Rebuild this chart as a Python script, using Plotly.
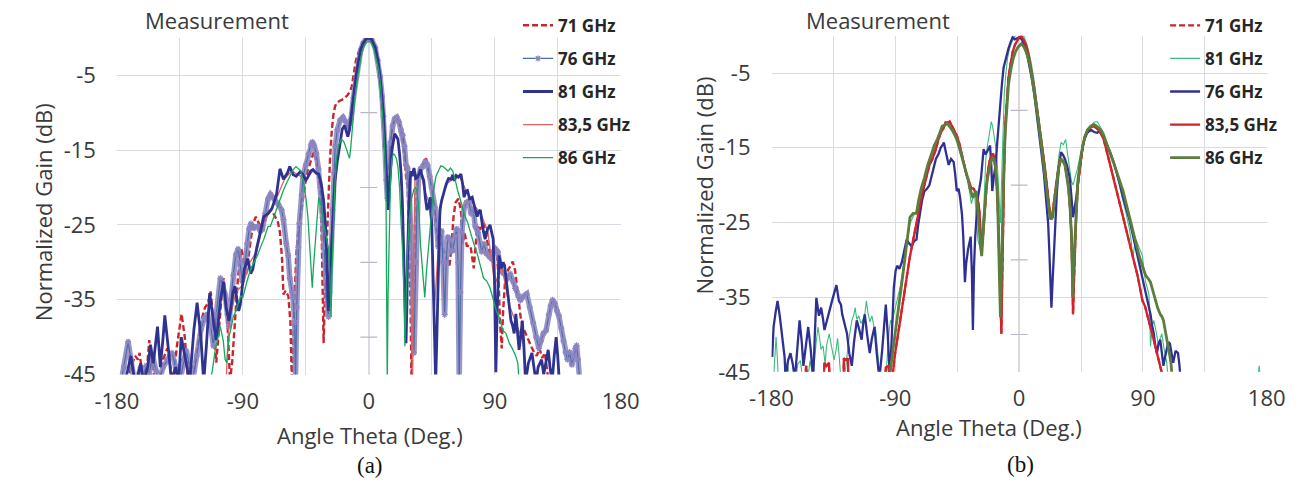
import plotly.graph_objects as go

# ================= DATA : panel (a) =================
# (angle in deg, normalized gain in dB); values below -45 sit under the axis floor
A71 = [(-172,-46),(-170,-44),(-167,-42.5),(-165,-43),(-163.8,-42.1),(-162,-45),(-160,-46),(-158,-43),
       (-156.9,-40.4),(-155,-43),(-153,-46),(-150,-46),(-147,-43),(-144,-41.5),(-142,-44),(-140,-46),
       (-137,-41),(-135,-38.5),(-133.8,-36.9),(-131.5,-40),(-129.2,-46),(-126,-46),(-123,-42),(-120,-38),
       (-117,-36),(-115,-35.5),(-113,-33.9),(-111.5,-37),(-109,-43.4),(-107,-38),(-105,-34),(-103.8,-32.1),
       (-102,-35),(-100.5,-40),(-99.2,-46),(-97.5,-43),(-95.7,-37.8),(-93.5,-32),(-91.1,-28.2),(-89.5,-29.5),
       (-87.7,-31.7),(-86,-29),(-84,-26.5),(-82,-24.5),(-80.7,-23.9),(-78.5,-24.8),(-76.1,-25.6),(-74,-24.3),
       (-72,-23.3),(-69.5,-23),(-67,-23.8),(-65,-24.6),(-63.5,-26),(-62,-29.5),(-61,-34.3),(-59.5,-33.8),
       (-57.5,-34.5),(-56,-38),(-55,-46),(-54.2,-41.3),(-53.1,-33.4),(-52,-29.5),(-50.8,-26.5),(-49,-24),
       (-47.3,-22.1),(-45.5,-19.5),(-43.8,-17.8),(-41.5,-16.5),(-39.2,-15.2),(-37.5,-16.5),(-36,-18.5),
       (-34.6,-20.4),(-33.5,-28),(-32.3,-40.8),(-31.2,-33),(-30,-26.9),(-28.8,-21),(-27.7,-16.1),(-26.5,-12.5),
       (-25.4,-10.4),(-24.2,-9.2),(-23.1,-8.7),(-21.5,-8.5),(-19.6,-8.3),(-17.5,-8.1),(-15,-7.6),(-13.5,-7.2),
       (-12.2,-6.5),(-10.5,-4.5),(-9.2,-3.0),(-7.5,-2.0),(-5.75,-1.2),(-4,-0.6),(-2,-0.15),(0,0),(2,-0.2),
       (4.6,-1.3),(6.5,-3),(8.1,-5.2),(9.5,-7.8),(10.5,-10.3),(11.5,-14),(12.5,-18),(13.3,-21),(14.5,-17),
       (16,-13),(18,-11.2),(20,-10.8),(22,-11.5),(24,-13.5),(25.5,-16),(26.6,-18.5),(27.8,-20),(28.8,-26),
       (29.8,-35),(30.5,-46),(31.5,-38),(32.5,-28),(33.5,-22),(35,-19),(37,-17.8),(39,-16.6),(40.9,-16.1),
       (42.5,-17.5),(44,-19),(45,-20),(46.5,-22),(47.5,-24.5),(49.6,-27.8),(51.5,-27.5),(53,-28.2),
       (54.3,-28.7),(56,-29.8),(57.7,-30.4),(59,-28),(60.5,-24),(62,-22),(64,-21.5),(65.8,-23),(67,-27.5),
       (68.5,-26),(70,-27.8),(72.7,-27.8),(73.8,-29.5),(75,-30.8),(76.2,-28),(77.4,-25.2),(79.5,-25.5),
       (82,-24.8),(84,-26.5),(86,-28.5),(88,-29.5),(89.5,-29),(91.2,-28.2),(92.5,-31.3),(93.8,-38),
       (95,-41.5),(96,-36.5),(97.2,-33),(98.1,-32.1),(99.5,-31),(101.6,-30.4),(102.8,-29.9),(104.5,-31),
       (106,-33.5),(107.5,-36),(108.5,-37.3),(110,-38.6),(112,-39.5),(114,-40.5),(116,-41.2),(118,-42),
       (120,-42.5),(122,-41.5),(124,-42.8),(125.8,-42.1),(127,-44),(128.5,-46)]

A76 = [(-177,-46),(-175,-44),(-172,-40.6),(-170,-43),(-168,-45.5),(-166,-46),(-163,-44),(-161,-45),
       (-159,-43.8),(-157,-45),(-154.6,-42.5),(-152,-44.5),(-150,-46),(-147,-44),(-144,-43),(-140.7,-42.1),
       (-138,-44),(-135,-46),(-132,-43),(-130.4,-41.8),(-128,-44),(-126,-46),(-123,-42.5),(-120,-39),
       (-117.5,-37.5),(-115.4,-36.9),(-113,-38.5),(-111,-41.2),(-109,-37),(-106.1,-32.1),(-104.5,-33),
       (-102.7,-34.3),(-101,-37),(-100,-38.6),(-98.5,-35),(-96.9,-31.7),(-95,-29),(-93.4,-28.2),(-92,-30),
       (-90.5,-32.5),(-89,-31),(-87,-27.5),(-85.5,-25.5),(-84.2,-24.8),(-82,-25.4),(-79.6,-25.2),(-77.5,-25.8),
       (-76.1,-25.6),(-74,-23.5),(-72,-21.5),(-70.3,-20.9),(-68.5,-21.3),(-66.9,-21.7),(-64.5,-22.3),
       (-62.3,-23),(-61,-24.3),(-59,-27.5),(-57.6,-29.1),(-56.5,-32.1),(-55,-34),(-54.2,-34.7),(-53,-38),
       (-52.4,-46),(-51.5,-36),(-50.5,-28),(-49.6,-24.8),(-48,-21),(-47,-18.5),(-45,-17),(-43,-15.5),
       (-41.5,-14.3),(-40.4,-13.9),(-39,-14.4),(-37.5,-15.5),(-36,-17.5),(-34.5,-20),(-33,-24),(-32,-28),
       (-31,-32),(-30,-35.5),(-28.8,-37.3),(-28,-34),(-27,-28),(-26,-23),(-25,-18),(-24,-14.5),(-22.5,-12.3),
       (-20.5,-11),(-18.45,-10.6),(-17,-11.1),(-15,-11.7),(-13.8,-11.4),(-12.7,-10.9),(-11,-8),(-9.2,-5.3),
       (-7.5,-3.3),(-5.75,-1.6),(-4,-0.7),(-2,-0.15),(0,0),(2,-0.2),(4.6,-1.3),(6.5,-3),(8.1,-5.2),(9.5,-7.8),
       (10.5,-10.5),(11.5,-14.5),(12.5,-19),(13.3,-21.5),(14.2,-18),(15.5,-14),(17,-11.8),(18.5,-10.8),
       (20,-10.6),(21.5,-11.2),(23,-12.3),(24.3,-13.0),(25.5,-14.5),(26.6,-17),(27.7,-17.4),(29,-21),
       (30,-25.2),(31.2,-33),(32.3,-42.1),(33.5,-30),(34.5,-22),(35.5,-18.5),(37,-17.5),(38.5,-17.2),
       (40.4,-16.5),(42,-17),(43.5,-18.5),(45,-20),(47.3,-22.7),(48.5,-25),(49.6,-27.9),(51,-26),(52,-25.8),
       (53,-30),(54.2,-37),(55.3,-30),(56.5,-26.6),(58,-27),(59,-28.5),(60,-28.4),(61.5,-26.5),(62.8,-25.5),
       (63.8,-30),(64.6,-46),(65.5,-34),(66.5,-26),(68.1,-22.7),(69.8,-22),(71.5,-21.8),(73,-23.5),
       (74.5,-22.8),(76.1,-25.2),(78,-26),(80.7,-28.6),(82.5,-27.5),(84,-28.8),(86,-29.2),(87.6,-29.5),
       (89,-28.6),(90.5,-28.2),(92.2,-28.6),(93.5,-30),(94.5,-31.2),(96.5,-31.5),(99.1,-32.1),(101,-31.5),
       (103,-32.5),(104.5,-33.5),(106.5,-34.5),(108.3,-35.1),(110,-34.6),(112.9,-34.2),(115,-36),
       (117.5,-38.1),(119.5,-40),(121.5,-41.5),(123,-40.5),(124.8,-39.5),(126.7,-39.1),(128.5,-37),
       (130,-35.8),(131.3,-35.0),(133,-35.5),(134.5,-36.5),(135.9,-37.2),(137.5,-38.8),(139,-40.5),
       (140.5,-42),(142,-43),(143.5,-42),(145.1,-43.7),(146.5,-42.5),(147.5,-41.5),(148.5,-41.1),
       (149.5,-43),(150.8,-46)]

A81 = [(-176,-46),(-173,-45),(-170,-42.5),(-168,-45),(-166,-46),(-163,-43.5),(-161,-46),(-158,-44),
       (-156,-41),(-154,-43.5),(-151,-38.6),(-149,-44),(-147,-40),(-145.8,-37.1),(-143,-42),(-141,-46),
       (-138,-44),(-136,-46),(-134,-40),(-131,-43),(-128,-46),(-125,-39),(-122.7,-35.4),(-120,-40),
       (-118,-46),(-116,-41),(-113.7,-34.1),(-111,-38),(-108.9,-40.4),(-106,-35),(-103.8,-32.6),(-102,-36),
       (-99.9,-37.8),(-97,-34),(-95.7,-33.2),(-93,-36.5),(-91.8,-35.6),(-89,-31),(-86.5,-29.5),(-84.5,-31.5),
       (-83,-31.0),(-80,-28.0),(-77,-25.5),(-75,-23.9),(-72,-23.5),(-69.2,-22.8),(-66,-21.0),(-63.5,-17.5),
       (-61,-18.9),(-58,-18),(-56.5,-17.2),(-54,-18.3),(-51.9,-18.5),(-49,-17.9),(-47.3,-18.2),(-45,-19),
       (-43.8,-18.7),(-41.5,-17.8),(-39.9,-17.6),(-37.5,-18.1),(-35.8,-18.2),(-34,-19.5),(-32.3,-21.7),
       (-31,-25),(-30,-29.1),(-29,-36.5),(-28,-33),(-26.5,-27),(-25,-22),(-24.2,-19.1),(-22.5,-16.5),
       (-20.8,-14.1),(-19,-12.2),(-17.3,-11.7),(-16,-12.4),(-15,-13.2),(-13.8,-12.3),(-12.7,-10.4),
       (-11,-7.8),(-9.2,-5.2),(-7.5,-3.2),(-5.75,-1.5),(-4,-0.7),(-2,-0.15),(0,0),(2,-0.2),(4.6,-1.3),
       (6.5,-3),(8.1,-5.2),(9.5,-7.8),(10.4,-10),(11.5,-14),(12.7,-19.5),(13.9,-23),(15,-19.5),(16.5,-15),
       (18.5,-12.8),(20.8,-13.5),(22,-15.5),(23.1,-18.2),(24,-22),(24.7,-26.9),(25.7,-33),(26.6,-40.8),
       (27.2,-36),(27.7,-29.1),(28.8,-22),(30,-17.8),(31,-18.5),(32.3,-17.4),(33.5,-18.8),(34.6,-18.7),
       (35.8,-18.2),(37,-17.6),(38,-18.4),(39.3,-19.1),(40.5,-21.5),(41.6,-23),(42.7,-22.5),(43.9,-21.3),
       (45,-25),(46.2,-33.4),(47,-38),(47.8,-46),(48.5,-41),(49.2,-35.6),(50,-28),(50.8,-23),(52,-21.8),
       (53.1,-20.8),(54.3,-20.2),(55.4,-19.5),(57,-18.8),(58.9,-18.9),(60,-18.3),(61.2,-19.1),(62.5,-18.4),
       (64,-18.6),(65.8,-18.2),(67,-19.5),(68.1,-21.3),(69.3,-20.5),(70.5,-20.4),(72,-21.5),(73.9,-21.3),
       (75.5,-22.5),(77.4,-23.9),(78.5,-23.2),(79.7,-23),(81.5,-25.5),(83.1,-26.9),(84.8,-25.6),(86.6,-25),
       (87.8,-26),(88.9,-26.9),(89.8,-32),(90.8,-44.7),(91.8,-36),(93.1,-29.1),(94.7,-30.8),(96,-30),
       (97,-30.4),(98.2,-32.5),(99.3,-34.3),(100.5,-36),(101.6,-37.8),(102.8,-38.5),(103.9,-39.5),
       (105.1,-36.9),(106.2,-39),(107.4,-41.7),(108.5,-40),(109.7,-37.8),(110.8,-41),(112,-46),(114,-43.5),
       (116.6,-42.1),(118,-44),(119.5,-46),(121,-44),(123.5,-43),(125,-45),(126.5,-43.5),(128.2,-41.7),
       (129.5,-44),(131,-46),(132.5,-42.5),(133.9,-40),(135,-42.5),(136.2,-46)]

A835 = [(-102,-46),(-100,-38),(-95,-34),(-90,-33),(-85,-30),(-80,-28.5),(-75,-24.5),(-70,-23),(-65,-21),
        (-60,-18.8),(-55,-17.8),(-50,-18.4),(-45,-18.9),(-40,-17.8),(-35,-18.5),(-32,-22),(-30,-30),
        (-29,-36),(-27,-28),(-25,-21),(-22,-15.5),(-19,-12.3),(-17,-11.9),(-15,-13),(-13,-11),(-10,-6.8),
        (-7,-2.8),(-4,-0.8),(0,-0.1),(4,-1.1),(7,-3.8),(9.5,-7.9),(11.5,-14.2),(13.5,-22),(15,-19.5),
        (17,-14),(19,-13),(21,-13.8),(23,-18),(25,-28),(26.5,-38),(28,-28),(29.5,-19),(30.5,-24),
        (31.3,-46),(32,-30),(33,-18.5),(35,-18.5),(37,-17.8),(40,-20.5),(43,-22),(45,-26),(47,-36),
        (49,-30),(52,-21.5),(56,-19.5),(60,-18.8),(65,-18.6),(70,-20.6),(75,-22.3),(80,-23.5),(85,-25.8),
        (90,-33),(95,-30.5),(100,-35.5),(105,-38),(110,-40.5),(113,-46)]

A86 = [(-114,-46),(-112,-44.7),(-110,-42),(-108,-40),(-106.1,-38.6),(-104,-40.5),(-102.7,-43),
       (-101.5,-43.4),(-100,-40),(-98.1,-38.5),(-96.9,-37.3),(-95,-36.5),(-93.5,-35.5),(-91.5,-34.5),
       (-90,-34.7),(-88.9,-33.8),(-87,-32.5),(-84.2,-30.8),(-82,-30),(-79.6,-29.1),(-77,-27.8),(-75,-26.9),
       (-72,-25.2),(-70.4,-25.2),(-68,-24),(-65.8,-22.8),(-63.5,-21.5),(-61.1,-20.4),(-59,-19.5),
       (-56.5,-18.6),(-54,-17.6),(-52,-17.2),(-50.5,-17.5),(-48.5,-17.8),(-46.5,-19.5),(-45,-21.3),
       (-43.5,-24),(-42.7,-26.5),(-41.5,-30),(-40.4,-33.4),(-39.5,-30.5),(-38.1,-27.4),(-37,-24),
       (-35.8,-21.3),(-34,-22.5),(-32.3,-24.8),(-30.5,-26.5),(-28.8,-28.2),(-27.8,-32),(-27,-37.3),
       (-26.3,-31),(-25.4,-24.8),(-24.2,-19.5),(-23.1,-16.1),(-21.5,-14.3),(-19.6,-13.5),(-17.8,-13.9),
       (-16.1,-14.8),(-15,-15.6),(-13.8,-16.1),(-12.8,-14.5),(-11.5,-11.7),(-10,-8),(-8,-5.2),(-6.5,-3.3),
       (-5,-2.0),(-3,-1.0),(-1.5,-0.6),(0,-0.5),(1.5,-0.6),(3.5,-1.4),(5.5,-2.8),(7,-4.2),(8.1,-5.7),
       (9.3,-8.5),(10.4,-11.7),(11.4,-15.5),(12.3,-20.4),(12.7,-33.4),(13.2,-46),(13.8,-34),(14.5,-25),
       (15.5,-19),(16.5,-16.2),(17.5,-15.5),(18.5,-15.6),(19.8,-16.2),(20.8,-17.2),(22,-20),(23.1,-24.8),
       (24.3,-29),(25.2,-35),(25.8,-41.2),(26.5,-36),(27.5,-29),(28.9,-24.3),(30.5,-21.5),(32.3,-20.2),
       (33.5,-20.0),(34.6,-20.5),(35.8,-23),(37,-27.8),(38.5,-31.5),(40,-34.7),(41.3,-31),(42.7,-27.8),
       (44.5,-23.5),(46.2,-20.4),(48,-18.5),(49.6,-17.8),(51.5,-17.1),(53.1,-17.2),(55,-17.6),(56.6,-17.8),
       (58.3,-17.4),(60,-17.8),(61.8,-19),(63.5,-20.4),(66,-22),(68.1,-23.5),(70.5,-24.6),(72.7,-26.1),
       (75,-27.5),(77.3,-28.7),(79.5,-30.5),(82,-32.1),(84.3,-32.5),(86.6,-33.4),(89,-35),(91.2,-36.5),
       (93.5,-37.5),(95.8,-39.1),(98,-39.5),(100.4,-40.8),(102.5,-41.5),(105,-42.5),(106.5,-43.5),
       (107.4,-46)]

# ================= DATA : panel (b) =================
B76 = [(-179.5,-43),(-178.5,-39),(-177,-37),(-175.6,-35.5),(-174,-37.5),(-172,-40.7),(-170.5,-43),
       (-169.7,-46),(-168,-43.5),(-166.2,-42.5),(-164.5,-44),(-163,-46),(-161.5,-42),(-159.6,-38.1),
       (-158,-41),(-156.8,-44.2),(-155,-41.5),(-153.3,-39),(-151.5,-42),(-149.7,-46),(-148.5,-40),
       (-147.4,-35.1),(-145.5,-37.5),(-143.9,-36.4),(-142.5,-38),(-141.5,-39.4),(-139.5,-38),(-138,-36.8),
       (-136,-35.5),(-134.5,-34.5),(-132.8,-33.4),(-131,-35.5),(-129.5,-36),(-128.6,-37.3),(-127,-38.5),
       (-125.1,-39.9),(-123.5,-42.5),(-121.6,-44.2),(-120,-41),(-118,-38.1),(-116,-39.5),(-114.5,-40.7),
       (-113.3,-38.5),(-112.2,-37.3),(-110.5,-40),(-108.6,-42.5),(-107,-40.5),(-105.1,-39),(-103.5,-42.5),
       (-101.6,-46),(-99.5,-42),(-98,-38.5),(-96.9,-36),(-95.5,-40),(-93.9,-46),(-92.5,-40),(-91.1,-33.8),
       (-89.8,-31.5),(-88.7,-30.8),(-87,-31.2),(-85.2,-30.3),(-83.5,-28.8),(-81.7,-27.3),(-80,-27.8),
       (-78.1,-28.2),(-76.3,-27.5),(-74.6,-27.3),(-73.5,-25.5),(-72.3,-23.8),(-70.5,-22),(-68.8,-20.8),
       (-67,-20.5),(-65.2,-20),(-63,-18.5),(-60.5,-16.5),(-58.5,-15.8),(-57,-15),(-55.5,-14.6),(-54.7,-14.3),
       (-53,-15.8),(-51.2,-17.3),(-49.5,-16.5),(-47.6,-16.9),(-46.5,-18.5),(-45.3,-20.8),(-44,-20.5),
       (-42.9,-21.7),(-41.5,-24),(-40.6,-26.9),(-39.4,-33),(-38.5,-30.5),(-37.1,-28.6),(-36,-27.5),
       (-35.2,-26.9),(-34.3,-32),(-33.6,-39.4),(-32.8,-31),(-31.9,-26.9),(-30,-21.7),(-28.5,-20),
       (-27.7,-19.1),(-25.8,-15.2),(-24.5,-15.9),(-23.5,-15.6),(-22.2,-15),(-21.1,-14.7),(-20.2,-17.5),
       (-19.5,-20.8),(-18.3,-18.8),(-17.1,-17.3),(-15.9,-14.3),(-14.8,-11.5),(-13.6,-9.1),(-12.5,-6.5),
       (-11.3,-4.3),(-9.5,-2.8),(-7.7,-1.7),(-6,-0.8),(-4.7,-0.2),(-3.2,-0.5),(-1.9,-0.4),(0.5,-0.2),
       (2.2,-0.6),(4,-1.3),(5.8,-2.5),(7.5,-3.9),(9.2,-5.7),(11,-7.8),(12.8,-10.3),(14.6,-13),(16.3,-15.8),
       (18.1,-18.6),(19.6,-21.5),(21.1,-25.1),(22,-29),(22.8,-33.8),(23.5,-36.4),(24.3,-33),(25.1,-29.5),
       (26.2,-24.5),(27.5,-20.8),(29,-17.5),(30.5,-15.6),(32,-16),(33.3,-16.5),(35,-17.5),(36.9,-19.1),
       (38,-21.5),(39.2,-24.3),(40.4,-23),(41.6,-21.7),(42.8,-19.5),(43.9,-17.8),(45.6,-15.6),(47.4,-13.9),
       (49.5,-13),(52.1,-12.6),(54.5,-12.9),(56.8,-13),(58.5,-12.8),(61.5,-13.6),(64,-14.6),(66.2,-15.6),
       (68.5,-16.8),(70.9,-18.2),(73.2,-19.8),(75.6,-21.7),(78,-23.2),(80.3,-24.7),(82.6,-26.6),(85,-28.6),
       (87.3,-30.8),(89,-32.3),(90.8,-33.8),(92,-34.5),(93.2,-35.5),(94.4,-36.5),(95.5,-37.3),(96.7,-38.8),
       (97.9,-39.9),(99,-41.5),(100.2,-42.5),(101.4,-41.2),(102.6,-40.7),(103.8,-42.5),(104.9,-44.2),
       (106.1,-43),(107.3,-42.1),(108.5,-41),(109.6,-41.2),(110.8,-42.8),(112,-43.8),(113.7,-42.2),
       (115.5,-42.5),(116.5,-44),(117.4,-46)]

B835 = [(-155.5,-46),(-154.8,-44.2),(-154,-46),(-142,-46),(-141.5,-43.8),(-140,-44.2),(-138.2,-43.8),
        (-137.8,-46),(-127.6,-46),(-127.4,-43.2),(-126,-43.4),(-124.4,-43.2),(-124.2,-46),(-97.5,-46),
        (-96.8,-44.4),(-95,-44.2),(-94,-46),(-92.2,-46),(-90.5,-43),(-88.7,-40.7),(-87,-38.5),(-85.2,-36.4),
        (-82.8,-33.8),(-81,-31.5),(-79.3,-29.5),(-77.5,-27.8),(-75.8,-26),(-74,-24.5),(-72.3,-23),(-70,-20.8),
        (-67.5,-19),(-65.2,-17.3),(-63,-16.5),(-60.5,-15.2),(-58.8,-14),(-57,-13),(-55,-12.4),(-53.5,-11.6),
        (-52.3,-11.7),(-50.5,-11.5),(-48.8,-12.1),(-47,-12.7),(-45.3,-13.4),(-43.5,-14.4),(-41.8,-15.6),
        (-40,-17.2),(-38.3,-18.6),(-36.5,-19.5),(-34.7,-20.4),(-33,-20.5),(-31.2,-21.2),(-30,-22),
        (-28.9,-23.4),(-28,-26.5),(-27.2,-28.6),(-26.2,-26.5),(-25.3,-24.3),(-24,-21),(-23,-18.6),
        (-21.5,-16.8),(-20.2,-16.1),(-19,-15.8),(-17.8,-16.5),(-16.8,-18.5),(-15.9,-20.8),(-15,-25.5),
        (-14.3,-29.5),(-13.5,-35),(-12.9,-39.9),(-12.3,-33),(-11.7,-25.1),(-10.9,-18),(-10.1,-12.1),
        (-9,-8.5),(-7.7,-5.6),(-6.2,-3.8),(-4.7,-2.2),(-3,-1.2),(-1.4,-0.6),(0.2,-0.2),(1.7,0),(3.5,-0.6),
        (5.2,-1.3),(7,-2.7),(8.7,-4.3),(10.5,-6.4),(12.2,-8.7),(14,-11),(15.7,-13.4),(17.5,-16),(19.3,-18.6),
        (20.7,-21),(22.1,-23.4),(23,-24.6),(24,-24.3),(25.2,-22.8),(26.3,-20.8),(28,-18.5),(29.8,-16.5),
        (31.5,-16.7),(33.3,-17.3),(34.5,-18.5),(35.7,-20),(37,-23),(38.1,-26.9),(38.7,-32),(39.2,-37.3),
        (39.8,-33.5),(40.4,-29.5),(41.5,-24),(42.7,-20),(44.5,-17),(46.3,-14.7),(48,-13.4),(49.8,-12.6),
        (52,-12.3),(54.5,-12.1),(57,-12.5),(59.2,-13),(61.5,-13.9),(63.8,-15.4),(66.2,-17.3),(68.5,-19),
        (70.9,-20.8),(73.2,-22.6),(75.6,-24.3),(77.4,-25.8),(79.1,-27.3),(80.8,-28.2),(82.6,-29.5),
        (84.3,-30.8),(86.1,-32.1),(87.9,-33.8),(89.7,-35.5),(91.5,-36.2),(93.2,-37.3),(95,-38.6),
        (96.7,-39.9),(98.5,-41.2),(100.2,-42.5),(101.4,-43.5),(102.6,-44.2),(104.9,-46)]

B86 = [(-94.5,-46),(-93.4,-44.5),(-91.5,-42),(-89.9,-39.9),(-88,-37.5),(-86.4,-34.7),(-84.5,-32),
       (-82.8,-29.5),(-81,-27),(-79.3,-24.3),(-77,-23.8),(-74.6,-23.8),(-73,-22),(-71.1,-20.4),(-68.8,-19),
       (-66.4,-17.3),(-64,-16),(-61.7,-14.7),(-59.3,-13.8),(-57,-12.6),(-55.9,-12.1),(-54,-12),(-52.3,-11.7),
       (-50.5,-12.2),(-48.8,-12.6),(-47,-13.2),(-45.3,-13.9),(-43.5,-15),(-41.8,-16.1),(-40,-17.2),
       (-38.3,-18.2),(-37,-19.3),(-35.9,-20.4),(-34.7,-21),(-33.6,-21.7),(-32.4,-21.2),(-31.2,-20.8),
       (-30,-23.5),(-28.9,-26.9),(-28,-28.2),(-27.2,-29.5),(-26.2,-26.5),(-25.3,-23.4),(-24.2,-21),
       (-23,-19.1),(-21.8,-17.8),(-20.6,-16.9),(-19.4,-16.4),(-18.3,-16.5),(-17.3,-17.5),(-16.4,-19.1),
       (-15.6,-22.5),(-14.8,-27.3),(-14.2,-32),(-13.6,-37.7),(-12.9,-32),(-12.2,-25.1),(-11.2,-18.5),
       (-10.1,-13),(-9,-9.5),(-7.7,-6.5),(-6,-4.5),(-4.2,-3.0),(-2.5,-2.1),(-0.7,-1.5),(1.7,-1.1),
       (3.5,-1.5),(5.2,-2.2),(7,-3.3),(8.7,-4.8),(10.5,-6.8),(12.2,-9.1),(14,-11.4),(15.7,-13.9),
       (17.5,-16.5),(19.3,-19.1),(20.7,-21.5),(22.1,-23.8),(23.2,-24.6),(24.4,-24.3),(26,-21.8),
       (27.5,-19.5),(29,-17.5),(30.5,-16.5),(32,-16.8),(33.3,-17.3),(34.8,-19),(36.2,-20.8),(37.2,-23.5),
       (38.1,-26.9),(38.6,-31),(39,-35.1),(39.6,-31),(40.4,-27.7),(41.5,-23),(42.7,-19.5),(44.5,-16.8),
       (46.3,-14.7),(48,-13.5),(49.8,-12.6),(52,-12.1),(54.5,-11.9),(57,-12.2),(59.2,-12.6),(61.5,-13.4),
       (63.8,-14.5),(66.2,-15.6),(68.5,-16.9),(70.9,-18.2),(73.2,-19.5),(75.6,-20.8),(78,-22.6),
       (80.3,-24.3),(82,-25.8),(83.8,-26.9),(85.5,-28.2),(87.3,-29.5),(89.6,-30.8),(92,-32.1),(93.8,-32.5),
       (95.5,-33),(97.3,-34.2),(99.1,-35.5),(100.8,-36.5),(102.6,-37.3),(103.8,-37.6),(104.9,-38.1),
       (106.1,-39.2),(107.3,-40.7),(108.5,-41.8),(109.6,-42.9),(110.5,-44),(111.3,-46)]

B81 = [(-178.5,-46),(-177.3,-43),(-176.7,-40.3),(-175.8,-43),(-175,-46),(-171,-46),(-170,-44.5),
       (-168.5,-43.8),(-167.5,-45),(-166,-46),(-162,-46),(-161,-44),(-159,-43.5),(-158,-45),(-156,-46),
       (-153,-45),(-152,-43.5),(-150.5,-45),(-149,-44),(-147.5,-41),(-146.2,-39),(-145,-40.5),(-144,-42),
       (-142.5,-41.5),(-141,-44),(-140,-41.5),(-138,-39.9),(-136.5,-41.5),(-134.5,-43.4),(-133,-42),
       (-132,-40.5),(-131,-42.5),(-129.5,-46),(-127,-46),(-125.5,-43),(-124,-41),(-122.8,-39.5),
       (-121.6,-38.1),(-120.3,-37.5),(-119.2,-36.4),(-118,-38),(-116.5,-37.5),(-115,-38.5),(-113.5,-38),
       (-112.2,-37.3),(-111,-35.5),(-110,-37),(-108.5,-38.3),(-107,-37.5),(-105.5,-39),(-104.5,-39),
       (-103,-42.5),(-102.5,-43.4),(-101,-46),(-97,-46),(-95.5,-42),(-94.5,-39.5),(-93.4,-38.1),
       (-92.2,-38.5),(-91.1,-37.3),(-89.3,-36),(-87.5,-34.7),(-86.3,-33.5),(-85.2,-32.1),(-83.5,-30),
       (-81.7,-27.7),(-80.5,-26.5),(-79.3,-25.1),(-77,-24.2),(-74.6,-23.4),(-72.3,-22),(-69.9,-20.4),
       (-67.5,-18.8),(-65.2,-17.3),(-63,-16),(-60.5,-14.7),(-58.2,-13.5),(-55.8,-12.6),(-54,-11.8),
       (-52.3,-11.5),(-50.5,-12),(-48.8,-12.7),(-47,-13.3),(-45.3,-13.9),(-43,-15.5),(-40.6,-17.3),
       (-38.8,-18.4),(-37.1,-19.5),(-35.8,-21),(-34.7,-22.5),(-33.5,-21.6),(-32.4,-20.8),(-31.2,-24),
       (-30,-27.3),(-29,-28),(-28.2,-28.6),(-27,-26),(-25.8,-23.4),(-25,-20),(-24.2,-16.5),(-23,-14.7),
       (-21.8,-13.4),(-21,-12.2),(-20.2,-11.5),(-19.2,-12.2),(-18.3,-13.4),(-17.3,-14.5),(-16.4,-15.6),
       (-15.6,-18),(-14.8,-20.8),(-14.2,-23),(-13.6,-25.1),(-13,-21),(-12.4,-16.5),(-11.6,-12),(-10.8,-7.8),
       (-9.6,-5),(-8.4,-3),(-7,-1.8),(-5.4,-0.9),(-3.4,-0.2),(-1.4,0.4),(0.2,0.6),(1.7,0.6),(3.5,-0.1),
       (5.2,-0.9),(7,-2.1),(8.7,-3.5),(10.5,-5.5),(12.2,-7.8),(14,-10.2),(15.7,-12.6),(17.5,-15.2),
       (19.3,-17.8),(20.7,-20.5),(22.1,-23.4),(23.2,-24.2),(24.4,-24.3),(26,-21),(27.5,-18.2),(29,-16),
       (30.5,-14.3),(32.2,-14.6),(33.8,-13.9),(35.3,-16),(36.9,-18.6),(38,-19.5),(39.2,-20),(40.1,-19.4),
       (40.9,-19.1),(42.4,-17.8),(43.9,-16.5),(45.6,-15),(47.4,-13.4),(49.8,-12.6),(52.1,-12.1),
       (54.4,-11.6),(56.8,-11.5),(59.2,-12.2),(61.5,-13),(63.8,-14.3),(66.2,-15.6),(68.5,-17),(70.9,-18.6),
       (73.2,-20.3),(75.6,-22.1),(78,-24),(80.3,-26),(81.5,-27.5),(82.6,-29.9),(83.8,-28.2),(85,-27.3),
       (86.5,-28),(87.9,-28.5),(89.7,-29.5),(90.8,-31.5),(92,-33),(93.2,-33.8),(94.4,-34.7),(95,-38),
       (95.5,-41.6),(96.7,-39),(97.9,-38.1),(99.5,-39.5),(101.4,-41.6),(102.6,-40.5),(103.8,-39.9),
       (105,-41.5),(106.1,-42.5),(107.3,-43.8),(108.5,-46),(173.5,-46),(174.5,-44.2),(175.5,-46)]
B71 = B835  # 71 GHz trace lies underneath the 83,5 GHz trace in panel (b)

# ================= axes / labels =================
X_TICKS = [-180, -135, -90, -45, 0, 45, 90, 135, 180]
X_TICK_TEXT = ['-180', '', '-90', '', '0', '', '90', '', '180']
Y_TICKS = [-45, -35, -25, -15, -5, 0]
Y_TICK_TEXT = ['-45', '-35', '-25', '-15', '-5', '']
MINOR_TICKS = [-40, -30, -20, -10]
LEG_A = ['71 GHz', '76 GHz', '81 GHz', '83,5 GHz', '86 GHz']
LEG_B = ['71 GHz', '81 GHz', '76 GHz', '83,5 GHz', '86 GHz']

W, H = 1311, 493
GRID = '#dadae2'
TXT = '#3a3a3a'
FONT = 'Open Sans'


def px(X):  # pixel -> paper fraction
    return X / W


def py(Y):
    return 1 - Y / H


def xy(pairs):
    p = sorted(pairs)
    return [a for a, _ in p], [g for _, g in p]


fig = go.Figure()


def add(pairs, xa, ya, name, color, width, rank, legend, dash=None, show=True):
    x, y = xy(pairs)
    fig.add_trace(go.Scatter(x=x, y=y, mode='lines', name=name, xaxis=xa, yaxis=ya,
                             line=dict(color=color, width=width, dash=dash),
                             legend=legend, legendrank=rank, legendgroup=legend + name,
                             showlegend=show, hoverinfo='skip'))


# ---- panel (a) ----
add(A71, 'x', 'y', LEG_A[0], '#c8262d', 2.4, 1, 'legend', dash='6px,3px')
xa76, ya76 = xy(A76)
fig.add_trace(go.Scatter(x=xa76, y=ya76, mode='lines', xaxis='x', yaxis='y', showlegend=False,
                         line=dict(color='rgba(140,133,192,0.85)', width=5.5), hoverinfo='skip'))
fig.add_trace(go.Scatter(x=xa76, y=ya76, mode='lines+markers', name=LEG_A[1], xaxis='x', yaxis='y',
                         line=dict(color='#4d6da8', width=1.2),
                         marker=dict(symbol='asterisk-open', size=5, color='#8a84c0',
                                     line=dict(width=1.2, color='#8a84c0')),
                         legend='legend', legendrank=2, legendgroup='legend76', hoverinfo='skip'))
add(A835, 'x', 'y', LEG_A[3], '#d86464', 1.3, 4, 'legend')
add(A81, 'x', 'y', LEG_A[2], '#2f3390', 2.8, 3, 'legend')
add(A86, 'x', 'y', LEG_A[4], '#16a85a', 1.3, 5, 'legend')

# ---- panel (b) ----
add(B71, 'x2', 'y2', LEG_B[0], '#c8262d', 2.2, 1, 'legend2', dash='6px,3px')
add(B81, 'x2', 'y2', LEG_B[1], '#3dbb7d', 1.1, 2, 'legend2')
add(B76, 'x2', 'y2', LEG_B[2], '#2e3192', 2.3, 3, 'legend2')
add(B835, 'x2', 'y2', LEG_B[3], '#d2232a', 2.3, 4, 'legend2')
add(B86, 'x2', 'y2', LEG_B[4], '#5b7d3d', 2.8, 5, 'legend2')

# minor ticks on the vertical axis at 0 deg
for xa, ya in (('x', 'y'), ('x2', 'y2')):
    fig.add_trace(go.Scatter(x=[0] * len(MINOR_TICKS), y=MINOR_TICKS, mode='markers', xaxis=xa, yaxis=ya,
                             showlegend=False, hoverinfo='skip',
                             marker=dict(symbol='line-ew', size=12, line=dict(width=1.2, color='#b9b9c5'))))


def xaxis(domain, anchor):
    return dict(domain=domain, anchor=anchor, range=[-180, 180], tickvals=X_TICKS, ticktext=X_TICK_TEXT,
                showgrid=True, gridcolor=GRID, gridwidth=1.3, zeroline=False, showline=False, ticks='',
                tickfont=dict(size=22, color=TXT, family=FONT), ticklabelstandoff=11, fixedrange=True)


def yaxis(domain, anchor):
    return dict(domain=domain, anchor=anchor, range=[-45, 0], tickvals=Y_TICKS, ticktext=Y_TICK_TEXT,
                showgrid=True, gridcolor=GRID, gridwidth=1.3, zeroline=False, showline=False, ticks='',
                tickfont=dict(size=22, color=TXT, family=FONT), ticklabelstandoff=20, fixedrange=True)


ann = []
def text(x, y, s, size=22, angle=0, family=FONT, color=TXT):
    ann.append(dict(x=px(x), y=py(y), xref='paper', yref='paper', text=s, showarrow=False,
                    xanchor='center', yanchor='middle', textangle=angle,
                    font=dict(size=size, family=family, color=color)))


text(201, 21, 'Measurement')
text(884, 21, 'Measurement')
text(21, 218, 'Normalized Gain (dB)', angle=-90)
text(704, 191, 'Normalized Gain (dB)', angle=-90)
text(359, 448, 'Angle Theta (Deg.)')
text(998, 439, 'Angle Theta (Deg.)')
text(359, 479, '(a)', size=23, family='Liberation Serif', color='#111')
text(1031, 478, '(b)', size=23, family='Liberation Serif', color='#111')

shapes = []
for xr, yr in (('x', 'y domain'), ('x2', 'y2 domain')):
    shapes.append(dict(type='line', xref=xr, yref=yr, x0=0, x1=0, y0=0, y1=1,
                       line=dict(color='#c4c4ce', width=1.6), layer='below'))

leg = dict(bgcolor='rgba(0,0,0,0)', font=dict(size=17, family=FONT, color='#262626', weight='bold'),
           xanchor='left', yanchor='top', tracegroupgap=8, itemwidth=30, traceorder='grouped')

fig.update_layout(
    width=W, height=H, margin=dict(l=0, r=0, t=0, b=0), autosize=False,
    paper_bgcolor='white', plot_bgcolor='white',
    font=dict(family=FONT, color=TXT),
    xaxis=xaxis([px(98), px(618)], 'y'),
    yaxis=yaxis([py(385.5), py(39)], 'x'),
    xaxis2=xaxis([px(773.7), px(1284.9)], 'y2'),
    yaxis2=yaxis([py(382.7), py(36.7)], 'x2'),
    legend=dict(leg, x=px(512), y=py(8)),
    legend2=dict(leg, x=px(1180), y=py(8)),
    annotations=ann, shapes=shapes, showlegend=True,
)

fig.write_html("out.html", config={'displayModeBar': False},
               post_script="document.body.style.margin='0';document.body.style.overflow='hidden';")
